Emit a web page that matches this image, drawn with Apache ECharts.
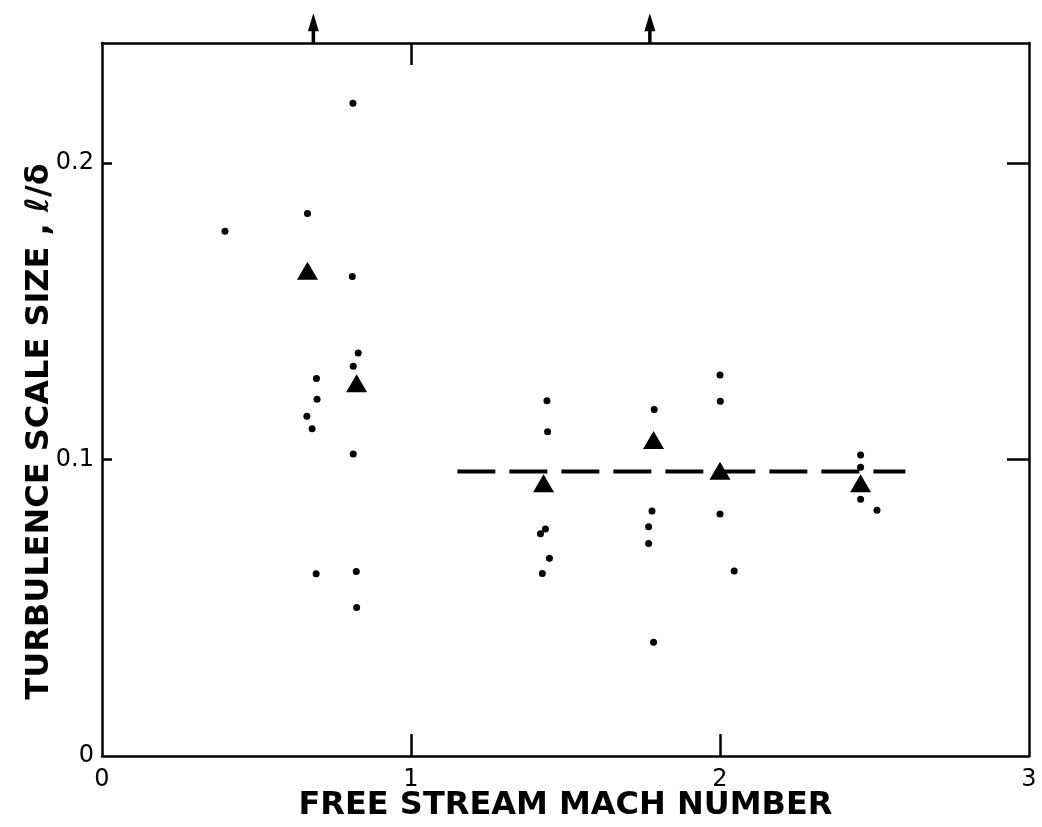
<!DOCTYPE html>
<html><head><meta charset="utf-8">
<script src="https://cdn.jsdelivr.net/npm/echarts@6/dist/echarts.min.js"></script>
<style>html,body{margin:0;padding:0;background:#fff;overflow:hidden}#c{width:1042px;height:827px}</style>
</head><body><div id="c"></div>
<script>
// individual measurements (small dots)
const dotsX = [0.398, 0.665, 0.810, 0.812, 0.829, 0.813, 0.694, 0.696, 0.663, 0.680, 0.813, 0.693, 0.823, 0.824,
               1.440, 1.442, 1.435, 1.419, 1.448, 1.425,
               1.787, 1.780, 1.769, 1.769, 1.785,
               2.001, 2.000, 2.000, 2.046,
               2.455, 2.455, 2.455, 2.508];
const dotsY = [0.177, 0.183, 0.1617, 0.2202, 0.1359, 0.1315, 0.1273, 0.1203, 0.1146, 0.1104, 0.1019, 0.0615, 0.0622, 0.0501,
               0.1198, 0.1094, 0.0766, 0.0750, 0.0667, 0.0616,
               0.1169, 0.0826, 0.0773, 0.0717, 0.0384,
               0.1197, 0.1285, 0.0816, 0.0624,
               0.1015, 0.0974, 0.0866, 0.0829];
// averages (triangles)
const triX = [0.665, 0.824, 1.429, 1.785, 2.000, 2.455];
const triY = [0.1637, 0.1257, 0.0920, 0.1066, 0.0962, 0.0920];
// mean line (dashed)
const meanX = [1.15, 2.60];
const meanY = [0.096, 0.096];
// off-scale arrows at top
const offscaleX = [0.684, 1.773];
const arrowBase = 0.2405, arrowTip = 0.2475;
// ticks
const xLabels = [0, 1, 2, 3];
const xInnerTicks = [1, 2];
const xTopTicks = [1];
const yLabels = [0, 0.1, 0.2];
const yInnerTicks = [0.1, 0.2];
const X_MAX = 3, Y_MAX = 0.2405;

const FONT = "'DejaVu Sans', sans-serif";
const chart = echarts.init(document.getElementById('c'), null, {renderer: 'canvas', width: 1042, height: 827});

const axisLine = {show: true, onZero: false, lineStyle: {color: '#000', width: 2.5}};
const tickStyle = {color: '#000', width: 2.5};
const series = [
  {type: 'scatter', xAxisIndex: 0, yAxisIndex: 0, symbol: 'circle', symbolSize: 7,
   itemStyle: {color: '#000', opacity: 1}, data: dotsX.map((x, i) => [x, dotsY[i]]), z: 3},
  {type: 'line', xAxisIndex: 0, yAxisIndex: 0, symbol: 'none',
   lineStyle: {color: '#000', width: 4, type: [38, 14]},
   data: meanX.map((x, i) => [x, meanY[i]]), z: 2},
  {type: 'scatter', xAxisIndex: 0, yAxisIndex: 0, symbol: 'triangle', symbolSize: [21, 18],
   itemStyle: {color: '#000', opacity: 1}, data: triX.map((x, i) => [x, triY[i]]), z: 4}
];
offscaleX.forEach(x => {
  series.push({type: 'line', xAxisIndex: 0, yAxisIndex: 0, symbol: 'none', clip: false, silent: true,
    lineStyle: {color: '#000', width: 3.5}, data: [[x, arrowBase], [x, arrowTip - 0.002]]});
});
series.push({type: 'scatter', xAxisIndex: 0, yAxisIndex: 0, clip: false, symbol: 'triangle', symbolSize: [11, 18],
  itemStyle: {color: '#000', opacity: 1}, data: offscaleX.map(x => [x, arrowTip])});

chart.setOption({
  animation: false,
  backgroundColor: '#fff',
  grid: {left: 102, right: 13, top: 43, bottom: 71, containLabel: false, outerBoundsMode: 'none'},
  xAxis: [
    {type: 'value', position: 'bottom', min: 0, max: X_MAX, interval: 1,
     axisLine: axisLine, splitLine: {show: false},
     axisTick: {show: true, inside: true, length: 22, customValues: xInnerTicks, lineStyle: tickStyle},
     axisLabel: {customValues: xLabels, color: '#000', fontSize: 24, fontFamily: FONT, margin: 12},
     name: 'FREE STREAM MACH NUMBER', nameLocation: 'middle', nameGap: 34, nameMoveOverlap: false,
     nameTextStyle: {color: '#000', fontSize: 32, fontWeight: 'bold', fontFamily: FONT}},
    {type: 'value', position: 'top', min: 0, max: X_MAX, interval: 1,
     axisLine: axisLine, splitLine: {show: false},
     axisTick: {show: true, inside: true, length: 22, customValues: xTopTicks, lineStyle: tickStyle},
     axisLabel: {show: false}}
  ],
  yAxis: [
    {type: 'value', position: 'left', min: 0, max: Y_MAX, interval: 0.1,
     axisLine: axisLine, splitLine: {show: false},
     axisTick: {show: true, inside: true, length: 10, customValues: yInnerTicks, lineStyle: tickStyle},
     axisLabel: {customValues: yLabels, color: '#000', fontSize: 24, fontFamily: FONT, margin: 8,
       formatter: v => v === 0 ? '0' : v.toFixed(1)},
     name: 'TURBULENCE SCALE SIZE , ℓ/δ', nameLocation: 'middle', nameGap: 46, nameRotate: 90, nameMoveOverlap: false,
     nameTextStyle: {color: '#000', fontSize: 32, fontWeight: 'bold', fontFamily: FONT, padding: [0, 64, 0, 0]}},
    {type: 'value', position: 'right', min: 0, max: Y_MAX, interval: 0.1,
     axisLine: axisLine, splitLine: {show: false},
     axisTick: {show: true, inside: true, length: 22, customValues: yInnerTicks, lineStyle: tickStyle},
     axisLabel: {show: false}}
  ],
  series: series
});
</script></body></html>
